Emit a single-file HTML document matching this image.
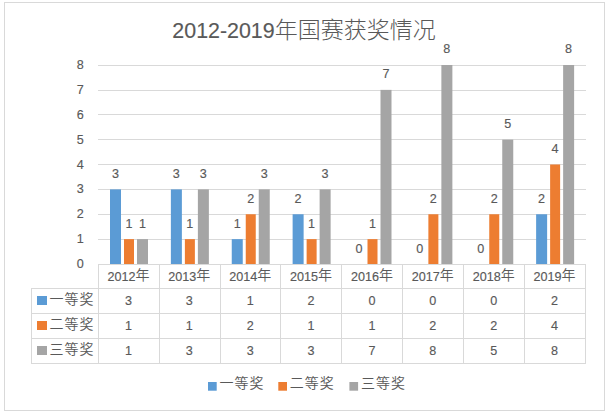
<!DOCTYPE html><html><head><meta charset="utf-8"><style>html,body{margin:0;padding:0;background:#fff;}svg{display:block;}text{fill:#595959;} .d{stroke:#595959;stroke-width:0.15px;}</style></head><body>
<svg width="609" height="414" viewBox="0 0 609 414">
<rect x="0" y="0" width="609" height="414" fill="#fff"/>
<rect x="4.5" y="2.5" width="600" height="408" fill="#fff" stroke="#D9D9D9" stroke-width="1"/>
<text class="d" x="304" y="38" text-anchor="middle" style="font-family:'Liberation Sans', sans-serif;font-size:21.4px">2012-2019<tspan style="stroke:none;font-family:'Noto Sans CJK SC', sans-serif;font-weight:300;font-size:23px">年国赛获奖情况</tspan></text>
<line x1="98" y1="239.5" x2="586" y2="239.5" stroke="#D9D9D9" stroke-width="1"/>
<line x1="98" y1="214.5" x2="586" y2="214.5" stroke="#D9D9D9" stroke-width="1"/>
<line x1="98" y1="189.5" x2="586" y2="189.5" stroke="#D9D9D9" stroke-width="1"/>
<line x1="98" y1="164.5" x2="586" y2="164.5" stroke="#D9D9D9" stroke-width="1"/>
<line x1="98" y1="139.5" x2="586" y2="139.5" stroke="#D9D9D9" stroke-width="1"/>
<line x1="98" y1="114.5" x2="586" y2="114.5" stroke="#D9D9D9" stroke-width="1"/>
<line x1="98" y1="90.5" x2="586" y2="90.5" stroke="#D9D9D9" stroke-width="1"/>
<line x1="98" y1="65.5" x2="586" y2="65.5" stroke="#D9D9D9" stroke-width="1"/>
<text class="d" x="83.8" y="267.90" text-anchor="end" style="font-family:'Liberation Sans', sans-serif;font-size:12.6px">0</text>
<text class="d" x="83.8" y="243.05" text-anchor="end" style="font-family:'Liberation Sans', sans-serif;font-size:12.6px">1</text>
<text class="d" x="83.8" y="218.20" text-anchor="end" style="font-family:'Liberation Sans', sans-serif;font-size:12.6px">2</text>
<text class="d" x="83.8" y="193.35" text-anchor="end" style="font-family:'Liberation Sans', sans-serif;font-size:12.6px">3</text>
<text class="d" x="83.8" y="168.50" text-anchor="end" style="font-family:'Liberation Sans', sans-serif;font-size:12.6px">4</text>
<text class="d" x="83.8" y="143.65" text-anchor="end" style="font-family:'Liberation Sans', sans-serif;font-size:12.6px">5</text>
<text class="d" x="83.8" y="118.80" text-anchor="end" style="font-family:'Liberation Sans', sans-serif;font-size:12.6px">6</text>
<text class="d" x="83.8" y="93.95" text-anchor="end" style="font-family:'Liberation Sans', sans-serif;font-size:12.6px">7</text>
<text class="d" x="83.8" y="69.10" text-anchor="end" style="font-family:'Liberation Sans', sans-serif;font-size:12.6px">8</text>
<rect x="110.000" y="189.375" width="11.00" height="74.625" fill="#5B9BD5"/>
<text class="d" x="115.50" y="178.00" text-anchor="middle" style="font-family:'Liberation Sans', sans-serif;font-size:12.6px">3</text>
<rect x="124.000" y="239.125" width="10.00" height="24.875" fill="#ED7D31"/>
<text class="d" x="129.00" y="228.00" text-anchor="middle" style="font-family:'Liberation Sans', sans-serif;font-size:12.6px">1</text>
<rect x="137.000" y="239.125" width="11.00" height="24.875" fill="#A5A5A5"/>
<text class="d" x="142.50" y="228.00" text-anchor="middle" style="font-family:'Liberation Sans', sans-serif;font-size:12.6px">1</text>
<rect x="170.875" y="189.375" width="11.00" height="74.625" fill="#5B9BD5"/>
<text class="d" x="176.38" y="178.00" text-anchor="middle" style="font-family:'Liberation Sans', sans-serif;font-size:12.6px">3</text>
<rect x="184.875" y="239.125" width="10.00" height="24.875" fill="#ED7D31"/>
<text class="d" x="189.88" y="228.00" text-anchor="middle" style="font-family:'Liberation Sans', sans-serif;font-size:12.6px">1</text>
<rect x="197.875" y="189.375" width="11.00" height="74.625" fill="#A5A5A5"/>
<text class="d" x="203.38" y="178.00" text-anchor="middle" style="font-family:'Liberation Sans', sans-serif;font-size:12.6px">3</text>
<rect x="231.750" y="239.125" width="11.00" height="24.875" fill="#5B9BD5"/>
<text class="d" x="237.25" y="228.00" text-anchor="middle" style="font-family:'Liberation Sans', sans-serif;font-size:12.6px">1</text>
<rect x="245.750" y="214.250" width="10.00" height="49.750" fill="#ED7D31"/>
<text class="d" x="250.75" y="203.00" text-anchor="middle" style="font-family:'Liberation Sans', sans-serif;font-size:12.6px">2</text>
<rect x="258.750" y="189.375" width="11.00" height="74.625" fill="#A5A5A5"/>
<text class="d" x="264.25" y="178.00" text-anchor="middle" style="font-family:'Liberation Sans', sans-serif;font-size:12.6px">3</text>
<rect x="292.625" y="214.250" width="11.00" height="49.750" fill="#5B9BD5"/>
<text class="d" x="298.12" y="203.00" text-anchor="middle" style="font-family:'Liberation Sans', sans-serif;font-size:12.6px">2</text>
<rect x="306.625" y="239.125" width="10.00" height="24.875" fill="#ED7D31"/>
<text class="d" x="311.62" y="228.00" text-anchor="middle" style="font-family:'Liberation Sans', sans-serif;font-size:12.6px">1</text>
<rect x="319.625" y="189.375" width="11.00" height="74.625" fill="#A5A5A5"/>
<text class="d" x="325.12" y="178.00" text-anchor="middle" style="font-family:'Liberation Sans', sans-serif;font-size:12.6px">3</text>
<text class="d" x="359.00" y="253.00" text-anchor="middle" style="font-family:'Liberation Sans', sans-serif;font-size:12.6px">0</text>
<rect x="367.500" y="239.125" width="10.00" height="24.875" fill="#ED7D31"/>
<text class="d" x="372.50" y="228.00" text-anchor="middle" style="font-family:'Liberation Sans', sans-serif;font-size:12.6px">1</text>
<rect x="380.500" y="89.875" width="11.00" height="174.125" fill="#A5A5A5"/>
<text class="d" x="386.00" y="78.00" text-anchor="middle" style="font-family:'Liberation Sans', sans-serif;font-size:12.6px">7</text>
<text class="d" x="419.88" y="253.00" text-anchor="middle" style="font-family:'Liberation Sans', sans-serif;font-size:12.6px">0</text>
<rect x="428.375" y="214.250" width="10.00" height="49.750" fill="#ED7D31"/>
<text class="d" x="433.38" y="203.00" text-anchor="middle" style="font-family:'Liberation Sans', sans-serif;font-size:12.6px">2</text>
<rect x="441.375" y="65.000" width="11.00" height="199.000" fill="#A5A5A5"/>
<text class="d" x="446.88" y="53.00" text-anchor="middle" style="font-family:'Liberation Sans', sans-serif;font-size:12.6px">8</text>
<text class="d" x="480.75" y="253.00" text-anchor="middle" style="font-family:'Liberation Sans', sans-serif;font-size:12.6px">0</text>
<rect x="489.250" y="214.250" width="10.00" height="49.750" fill="#ED7D31"/>
<text class="d" x="494.25" y="203.00" text-anchor="middle" style="font-family:'Liberation Sans', sans-serif;font-size:12.6px">2</text>
<rect x="502.250" y="139.625" width="11.00" height="124.375" fill="#A5A5A5"/>
<text class="d" x="507.75" y="128.00" text-anchor="middle" style="font-family:'Liberation Sans', sans-serif;font-size:12.6px">5</text>
<rect x="536.125" y="214.250" width="11.00" height="49.750" fill="#5B9BD5"/>
<text class="d" x="541.62" y="203.00" text-anchor="middle" style="font-family:'Liberation Sans', sans-serif;font-size:12.6px">2</text>
<rect x="550.125" y="164.500" width="10.00" height="99.500" fill="#ED7D31"/>
<text class="d" x="555.12" y="153.00" text-anchor="middle" style="font-family:'Liberation Sans', sans-serif;font-size:12.6px">4</text>
<rect x="563.125" y="65.000" width="11.00" height="199.000" fill="#A5A5A5"/>
<text class="d" x="568.62" y="53.00" text-anchor="middle" style="font-family:'Liberation Sans', sans-serif;font-size:12.6px">8</text>
<line x1="98.0" y1="264.5" x2="586.0" y2="264.5" stroke="#D9D9D9" stroke-width="1"/>
<line x1="31.0" y1="288.5" x2="586.0" y2="288.5" stroke="#D9D9D9" stroke-width="1"/>
<line x1="31.0" y1="313.5" x2="586.0" y2="313.5" stroke="#D9D9D9" stroke-width="1"/>
<line x1="31.0" y1="338.5" x2="586.0" y2="338.5" stroke="#D9D9D9" stroke-width="1"/>
<line x1="31.0" y1="363.5" x2="586.0" y2="363.5" stroke="#D9D9D9" stroke-width="1"/>
<line x1="31.5" y1="288.0" x2="31.5" y2="363.5" stroke="#D9D9D9" stroke-width="1"/>
<line x1="98.5" y1="264.0" x2="98.5" y2="363.5" stroke="#D9D9D9" stroke-width="1"/>
<line x1="159.5" y1="264.0" x2="159.5" y2="363.5" stroke="#D9D9D9" stroke-width="1"/>
<line x1="220.5" y1="264.0" x2="220.5" y2="363.5" stroke="#D9D9D9" stroke-width="1"/>
<line x1="280.5" y1="264.0" x2="280.5" y2="363.5" stroke="#D9D9D9" stroke-width="1"/>
<line x1="341.5" y1="264.0" x2="341.5" y2="363.5" stroke="#D9D9D9" stroke-width="1"/>
<line x1="402.5" y1="264.0" x2="402.5" y2="363.5" stroke="#D9D9D9" stroke-width="1"/>
<line x1="463.5" y1="264.0" x2="463.5" y2="363.5" stroke="#D9D9D9" stroke-width="1"/>
<line x1="524.5" y1="264.0" x2="524.5" y2="363.5" stroke="#D9D9D9" stroke-width="1"/>
<line x1="585.5" y1="264.0" x2="585.5" y2="363.5" stroke="#D9D9D9" stroke-width="1"/>
<text class="d" x="128.44" y="281" text-anchor="middle" style="font-family:'Liberation Sans', sans-serif;font-size:12.6px">2012<tspan dy="-0.8" style="stroke:none;font-family:'Noto Sans CJK SC', sans-serif;font-weight:350;font-size:14.0px">年</tspan></text>
<text class="d" x="189.31" y="281" text-anchor="middle" style="font-family:'Liberation Sans', sans-serif;font-size:12.6px">2013<tspan dy="-0.8" style="stroke:none;font-family:'Noto Sans CJK SC', sans-serif;font-weight:350;font-size:14.0px">年</tspan></text>
<text class="d" x="250.19" y="281" text-anchor="middle" style="font-family:'Liberation Sans', sans-serif;font-size:12.6px">2014<tspan dy="-0.8" style="stroke:none;font-family:'Noto Sans CJK SC', sans-serif;font-weight:350;font-size:14.0px">年</tspan></text>
<text class="d" x="311.06" y="281" text-anchor="middle" style="font-family:'Liberation Sans', sans-serif;font-size:12.6px">2015<tspan dy="-0.8" style="stroke:none;font-family:'Noto Sans CJK SC', sans-serif;font-weight:350;font-size:14.0px">年</tspan></text>
<text class="d" x="371.94" y="281" text-anchor="middle" style="font-family:'Liberation Sans', sans-serif;font-size:12.6px">2016<tspan dy="-0.8" style="stroke:none;font-family:'Noto Sans CJK SC', sans-serif;font-weight:350;font-size:14.0px">年</tspan></text>
<text class="d" x="432.81" y="281" text-anchor="middle" style="font-family:'Liberation Sans', sans-serif;font-size:12.6px">2017<tspan dy="-0.8" style="stroke:none;font-family:'Noto Sans CJK SC', sans-serif;font-weight:350;font-size:14.0px">年</tspan></text>
<text class="d" x="493.69" y="281" text-anchor="middle" style="font-family:'Liberation Sans', sans-serif;font-size:12.6px">2018<tspan dy="-0.8" style="stroke:none;font-family:'Noto Sans CJK SC', sans-serif;font-weight:350;font-size:14.0px">年</tspan></text>
<text class="d" x="554.56" y="281" text-anchor="middle" style="font-family:'Liberation Sans', sans-serif;font-size:12.6px">2019<tspan dy="-0.8" style="stroke:none;font-family:'Noto Sans CJK SC', sans-serif;font-weight:350;font-size:14.0px">年</tspan></text>
<text class="d" x="128.44" y="305.30" text-anchor="middle" style="font-family:'Liberation Sans', sans-serif;font-size:12.6px">3</text>
<text class="d" x="189.31" y="305.30" text-anchor="middle" style="font-family:'Liberation Sans', sans-serif;font-size:12.6px">3</text>
<text class="d" x="250.19" y="305.30" text-anchor="middle" style="font-family:'Liberation Sans', sans-serif;font-size:12.6px">1</text>
<text class="d" x="311.06" y="305.30" text-anchor="middle" style="font-family:'Liberation Sans', sans-serif;font-size:12.6px">2</text>
<text class="d" x="371.94" y="305.30" text-anchor="middle" style="font-family:'Liberation Sans', sans-serif;font-size:12.6px">0</text>
<text class="d" x="432.81" y="305.30" text-anchor="middle" style="font-family:'Liberation Sans', sans-serif;font-size:12.6px">0</text>
<text class="d" x="493.69" y="305.30" text-anchor="middle" style="font-family:'Liberation Sans', sans-serif;font-size:12.6px">0</text>
<text class="d" x="554.56" y="305.30" text-anchor="middle" style="font-family:'Liberation Sans', sans-serif;font-size:12.6px">2</text>
<rect x="37" y="296" width="10" height="9" fill="#5B9BD5"/>
<text x="49.5" y="303.60" style="font-family:'Noto Sans CJK SC', sans-serif;font-weight:350;font-size:14.0px;letter-spacing:1.0px">一等奖</text>
<text class="d" x="128.44" y="330.00" text-anchor="middle" style="font-family:'Liberation Sans', sans-serif;font-size:12.6px">1</text>
<text class="d" x="189.31" y="330.00" text-anchor="middle" style="font-family:'Liberation Sans', sans-serif;font-size:12.6px">1</text>
<text class="d" x="250.19" y="330.00" text-anchor="middle" style="font-family:'Liberation Sans', sans-serif;font-size:12.6px">2</text>
<text class="d" x="311.06" y="330.00" text-anchor="middle" style="font-family:'Liberation Sans', sans-serif;font-size:12.6px">1</text>
<text class="d" x="371.94" y="330.00" text-anchor="middle" style="font-family:'Liberation Sans', sans-serif;font-size:12.6px">1</text>
<text class="d" x="432.81" y="330.00" text-anchor="middle" style="font-family:'Liberation Sans', sans-serif;font-size:12.6px">2</text>
<text class="d" x="493.69" y="330.00" text-anchor="middle" style="font-family:'Liberation Sans', sans-serif;font-size:12.6px">2</text>
<text class="d" x="554.56" y="330.00" text-anchor="middle" style="font-family:'Liberation Sans', sans-serif;font-size:12.6px">4</text>
<rect x="37" y="321" width="10" height="9" fill="#ED7D31"/>
<text x="49.5" y="328.60" style="font-family:'Noto Sans CJK SC', sans-serif;font-weight:350;font-size:14.0px;letter-spacing:1.0px">二等奖</text>
<text class="d" x="128.44" y="355.00" text-anchor="middle" style="font-family:'Liberation Sans', sans-serif;font-size:12.6px">1</text>
<text class="d" x="189.31" y="355.00" text-anchor="middle" style="font-family:'Liberation Sans', sans-serif;font-size:12.6px">3</text>
<text class="d" x="250.19" y="355.00" text-anchor="middle" style="font-family:'Liberation Sans', sans-serif;font-size:12.6px">3</text>
<text class="d" x="311.06" y="355.00" text-anchor="middle" style="font-family:'Liberation Sans', sans-serif;font-size:12.6px">3</text>
<text class="d" x="371.94" y="355.00" text-anchor="middle" style="font-family:'Liberation Sans', sans-serif;font-size:12.6px">7</text>
<text class="d" x="432.81" y="355.00" text-anchor="middle" style="font-family:'Liberation Sans', sans-serif;font-size:12.6px">8</text>
<text class="d" x="493.69" y="355.00" text-anchor="middle" style="font-family:'Liberation Sans', sans-serif;font-size:12.6px">5</text>
<text class="d" x="554.56" y="355.00" text-anchor="middle" style="font-family:'Liberation Sans', sans-serif;font-size:12.6px">8</text>
<rect x="37" y="346" width="10" height="9" fill="#A5A5A5"/>
<text x="49.5" y="353.60" style="font-family:'Noto Sans CJK SC', sans-serif;font-weight:350;font-size:14.0px;letter-spacing:1.0px">三等奖</text>
<rect x="208.0" y="382" width="8.7" height="8.7" fill="#5B9BD5"/>
<text x="219.5" y="388.2" style="font-family:'Noto Sans CJK SC', sans-serif;font-weight:350;font-size:14.0px;letter-spacing:1.0px">一等奖</text>
<rect x="278.3" y="382" width="8.7" height="8.7" fill="#ED7D31"/>
<text x="289.8" y="388.2" style="font-family:'Noto Sans CJK SC', sans-serif;font-weight:350;font-size:14.0px;letter-spacing:1.0px">二等奖</text>
<rect x="349.4" y="382" width="8.7" height="8.7" fill="#A5A5A5"/>
<text x="360.9" y="388.2" style="font-family:'Noto Sans CJK SC', sans-serif;font-weight:350;font-size:14.0px;letter-spacing:1.0px">三等奖</text>
</svg></body></html>
